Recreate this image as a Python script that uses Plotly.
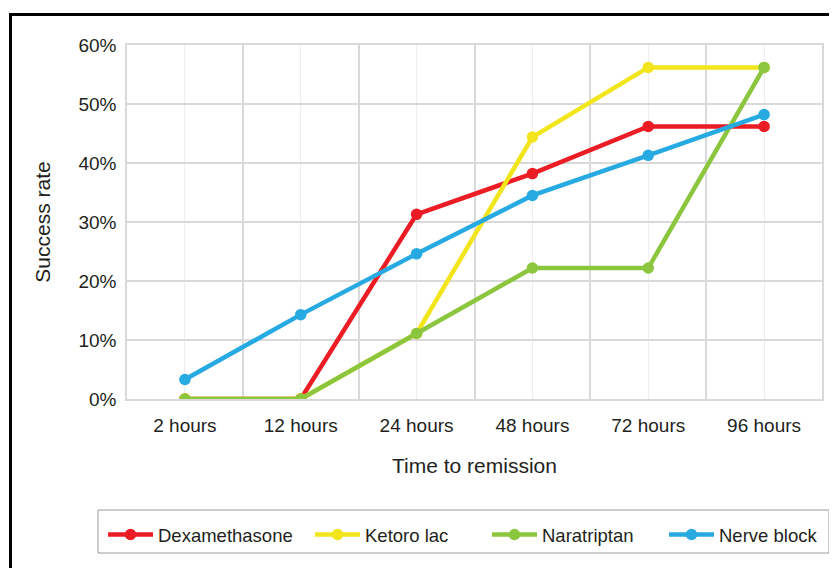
import plotly.graph_objects as go

categories = ["2 hours", "12 hours", "24 hours", "48 hours", "72 hours", "96 hours"]
dexamethasone = [0, 0, 31.3, 38.2, 46.2, 46.2]
ketorolac = [0, 0, 11.1, 44.4, 56.2, 56.2]
naratriptan = [0, 0, 11.1, 22.2, 22.2, 56.2]
nerve_block = [3.3, 14.3, 24.6, 34.5, 41.3, 48.2]
y_ticks = [0, 10, 20, 30, 40, 50, 60]
y_tick_labels = ["0%", "10%", "20%", "30%", "40%", "50%", "60%"]

series_names = ["Dexamethasone", "Ketoro lac", "Naratriptan", "Nerve block"]
series_values = [dexamethasone, ketorolac, naratriptan, nerve_block]
series_colors = ["#EC1C24", "#F3E51B", "#8CC63F", "#27AAE1"]

# page is rendered with the default 8px body margin
OFF = 8
W, H = 837 - OFF, 568 - OFF
ml, mt = 127 - OFF, 45 - OFF
pw, ph = 695, 354
mr, mb = W - ml - pw, H - mt - ph


def px_x(page_x):
    return (page_x - OFF - ml) / pw


def px_y(page_y):
    return (mt + ph - (page_y - OFF)) / ph


legend_starts = [108, 315, 492, 669]  # page px where each legend entry begins
legend_ids = ["legend", "legend2", "legend3", "legend4"]

x_idx = list(range(len(categories)))
font_family = "Liberation Sans, Arial, sans-serif"
txt = "#231F20"

fig = go.Figure()
for name, vals, color, lid in zip(series_names, series_values, series_colors, legend_ids):
    fig.add_trace(go.Scatter(
        x=x_idx, y=vals, name=name, mode="lines+markers",
        line=dict(color=color, width=4.5),
        marker=dict(color=color, size=11.5),
        legend=lid,
    ))

legend_layout = {}
for lid, sx in zip(legend_ids, legend_starts):
    legend_layout[lid] = dict(
        orientation="h", xanchor="left", yanchor="top",
        x=px_x(sx - 5), y=px_y(516),
        borderwidth=0, bgcolor="rgba(0,0,0,0)",
        font=dict(size=18.5, color=txt, family=font_family),
        itemwidth=45,
    )

fig.update_layout(
    width=W, height=H,
    margin=dict(l=ml, r=mr, t=mt, b=mb),
    paper_bgcolor="white", plot_bgcolor="white",
    font=dict(family=font_family, size=18, color=txt),
    showlegend=True,
    xaxis=dict(
        range=[-0.5, len(categories) - 0.5],
        tickmode="array", tickvals=x_idx, ticktext=categories,
        showgrid=True, gridcolor="#EEEEEE", gridwidth=1,
        minor=dict(tickmode="array",
                   tickvals=[i + 0.5 for i in x_idx[:-1]],
                   showgrid=True, gridcolor="#D9D9D9", gridwidth=1.5),
        showline=True, linecolor="#D9D9D9", linewidth=1.5, mirror=True,
        zeroline=False, ticks="", ticklabelstandoff=8,
        tickfont=dict(size=19, color=txt),
        title=dict(text="Time to remission", font=dict(size=21, color=txt), standoff=24),
        fixedrange=True,
    ),
    yaxis=dict(
        range=[0, 60],
        tickmode="array", tickvals=y_ticks, ticktext=y_tick_labels,
        showgrid=True, gridcolor="#D9D9D9", gridwidth=1.5,
        showline=True, linecolor="#D9D9D9", linewidth=1.5, mirror=True,
        zeroline=False, ticks="", ticklabelstandoff=5,
        tickfont=dict(size=19, color=txt),
        title=dict(text="Success rate", font=dict(size=21, color=txt), standoff=22),
        fixedrange=True,
    ),
    **legend_layout,
)

# legend box
fig.add_shape(
    type="rect", xref="paper", yref="paper",
    x0=px_x(98), x1=px_x(829), y0=px_y(553), y1=px_y(510),
    line=dict(color="#9A9A9A", width=1), fillcolor="rgba(0,0,0,0)", layer="below",
)

# outer black frame (open at right/bottom edges of the image)
fig.add_shape(
    type="rect", xref="paper", yref="paper",
    x0=px_x(10.5), x1=px_x(837 + 30),
    y0=px_y(568 + 30), y1=px_y(14.5),
    line=dict(color="black", width=3), fillcolor="rgba(0,0,0,0)", layer="above",
)

fig.write_html("out.html")
